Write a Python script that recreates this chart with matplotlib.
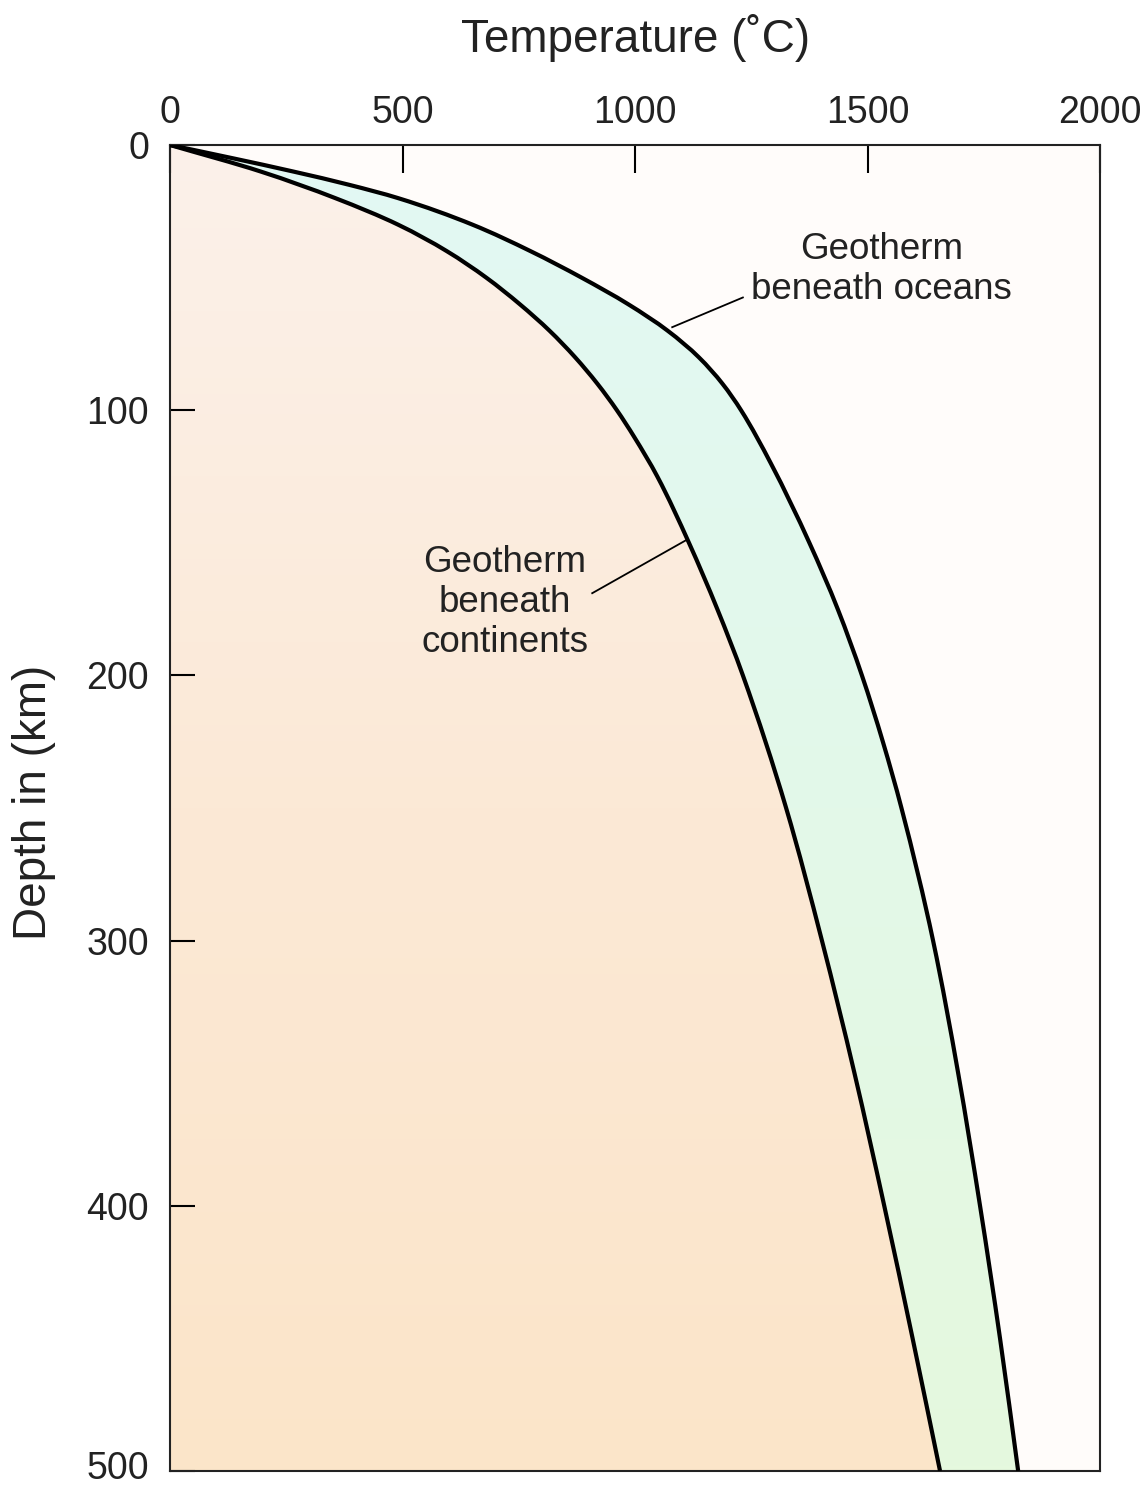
import numpy as np
import matplotlib
matplotlib.use("Agg")
import matplotlib.pyplot as plt
import matplotlib.transforms as mtransforms
from matplotlib.colors import LinearSegmentedColormap
from matplotlib.path import Path
from matplotlib.patches import PathPatch

# Data (depth km, temperature °C)
cont_depth = [0, 10, 20, 30, 40, 50, 60, 70, 80, 90, 100, 110, 125, 150, 175, 200, 250, 300, 350, 400, 450, 500]
cont_temp  = [0, 195, 355, 490, 595, 680, 752, 816, 871, 919, 961, 998, 1048, 1116, 1177, 1232, 1325, 1402, 1472, 1536, 1597, 1656]

ocean_depth = [0, 5, 10, 15, 20, 30, 40, 50, 60, 70, 80, 90, 100, 120, 150, 175, 200, 225, 250, 300, 350, 400, 450, 500]
ocean_temp  = [0, 135, 265, 385, 490, 650, 775, 885, 985, 1070, 1137, 1188, 1228, 1292, 1375, 1436, 1488, 1533, 1573, 1641, 1695, 1742, 1785, 1824]

xticks = [0, 500, 1000, 1500, 2000]
yticks = [0, 100, 200, 300, 400, 500]


def slopes(d, t):
    d = np.asarray(d, float); t = np.asarray(t, float)
    h = np.diff(d); delta = np.diff(t) / h
    m = np.zeros_like(t)
    for k in range(1, len(t) - 1):
        if delta[k - 1] * delta[k] <= 0:
            m[k] = 0
        else:
            w1 = 2 * h[k] + h[k - 1]; w2 = h[k] + 2 * h[k - 1]
            m[k] = (w1 + w2) / (w1 / delta[k - 1] + w2 / delta[k])
    m[0] = delta[0]; m[-1] = delta[-1]
    return m


def curve_vertices(d, t):
    """Cubic Hermite curve (depth as parameter) expressed as Bezier vertices (x=T, y=depth)."""
    m = slopes(d, t)
    verts = [(t[0], d[0])]
    for k in range(len(d) - 1):
        h = d[k + 1] - d[k]
        verts.append((t[k] + m[k] * h / 3, d[k] + h / 3))
        verts.append((t[k + 1] - m[k + 1] * h / 3, d[k + 1] - h / 3))
        verts.append((t[k + 1], d[k + 1]))
    return verts


def curve_codes(n_verts):
    return [Path.MOVETO] + [Path.CURVE4] * (n_verts - 1)


cv = curve_vertices(cont_depth, cont_temp)
ov = curve_vertices(ocean_depth, ocean_temp)

W, H = 1144, 1486
fig = plt.figure(figsize=(W / 100, H / 100), dpi=100)
fig.patch.set_facecolor("white")
ax = fig.add_axes([170 / W, 1 - 1471 / H, 930 / W, (1471 - 145) / H])
ax.set_xlim(0, 2000)
ax.set_ylim(500, 0)
ax.set_facecolor("#fffcfa")

FONT = ["Liberation Sans", "DejaVu Sans"]
grad = np.linspace(0, 1, 256).reshape(-1, 1)

# Peach region (left of continental geotherm)
peach_path = Path(cv + [(0, cont_depth[-1]), (0, 0)],
                  curve_codes(len(cv)) + [Path.LINETO, Path.CLOSEPOLY])
pp = PathPatch(peach_path, facecolor="none", edgecolor="none", transform=ax.transData)
ax.add_patch(pp)
peach = LinearSegmentedColormap.from_list("peach", ["#fcf1ea", "#fbe9d6", "#fbe5c9"])
im = ax.imshow(grad, extent=[0, 2000, 500, 0], aspect="auto", cmap=peach, zorder=1)
im.set_clip_path(pp)

# Green band between the geotherms
green_verts = ov + cv[::-1]
green_codes = curve_codes(len(ov)) + [Path.LINETO] + [Path.CURVE4] * (len(cv) - 1)
green_path = Path(green_verts, green_codes)
gp = PathPatch(green_path, facecolor="none", edgecolor="none", transform=ax.transData)
ax.add_patch(gp)
greens = LinearSegmentedColormap.from_list("greens", ["#e2f8f4", "#e3f8e9", "#e5f9de"])
im2 = ax.imshow(grad, extent=[0, 2000, 500, 0], aspect="auto", cmap=greens, zorder=1)
im2.set_clip_path(gp)

# Geotherm curves
for verts in (cv, ov):
    ax.add_patch(PathPatch(Path(verts, curve_codes(len(verts))), facecolor="none",
                           edgecolor="black", lw=3.0, zorder=3, capstyle="butt"))

# Axes styling
ax.xaxis.tick_top()
ax.set_xticks(xticks)
ax.set_yticks(yticks)
ax.tick_params(axis="x", direction="in", length=20, width=1.5, pad=10, labelsize=27)
ax.tick_params(axis="y", direction="in", length=18, width=1.5, pad=15, labelsize=27)
for lab in ax.get_xticklabels() + ax.get_yticklabels():
    lab.set_fontfamily(FONT)
    lab.set_color("#222222")
last = ax.yaxis.get_major_ticks()[-1].label1
last.set_transform(last.get_transform() +
                   mtransforms.ScaledTranslation(0, 4 / 72, fig.dpi_scale_trans))
for s in ax.spines.values():
    s.set_linewidth(1.5)
    s.set_color("#222222")

fig.text(636 / W, 1 - 38 / H, "Temperature (˚C)", ha="center", va="center",
         fontsize=33, family=FONT, color="#222222")
fig.text(34 / W, 1 - 802 / H, "Depth in (km)", ha="center", va="center",
         rotation=90, fontsize=33, family=FONT, color="#222222")

# Annotations
ax.text(1531, 47, "Geotherm\nbeneath oceans", ha="center", va="center",
        fontsize=26.5, family=FONT, color="#222222", linespacing=1.2, zorder=4)
ax.plot([1080, 1232], [68.7, 57.5], color="black", lw=1.3, zorder=4)
ax.text(720, 172.5, "Geotherm\nbeneath\ncontinents", ha="center", va="center",
        fontsize=26.5, family=FONT, color="#222222", linespacing=1.2, zorder=4)
ax.plot([1110, 908], [149, 169], color="black", lw=1.3, zorder=4)

fig.savefig("out.png", dpi=100)
